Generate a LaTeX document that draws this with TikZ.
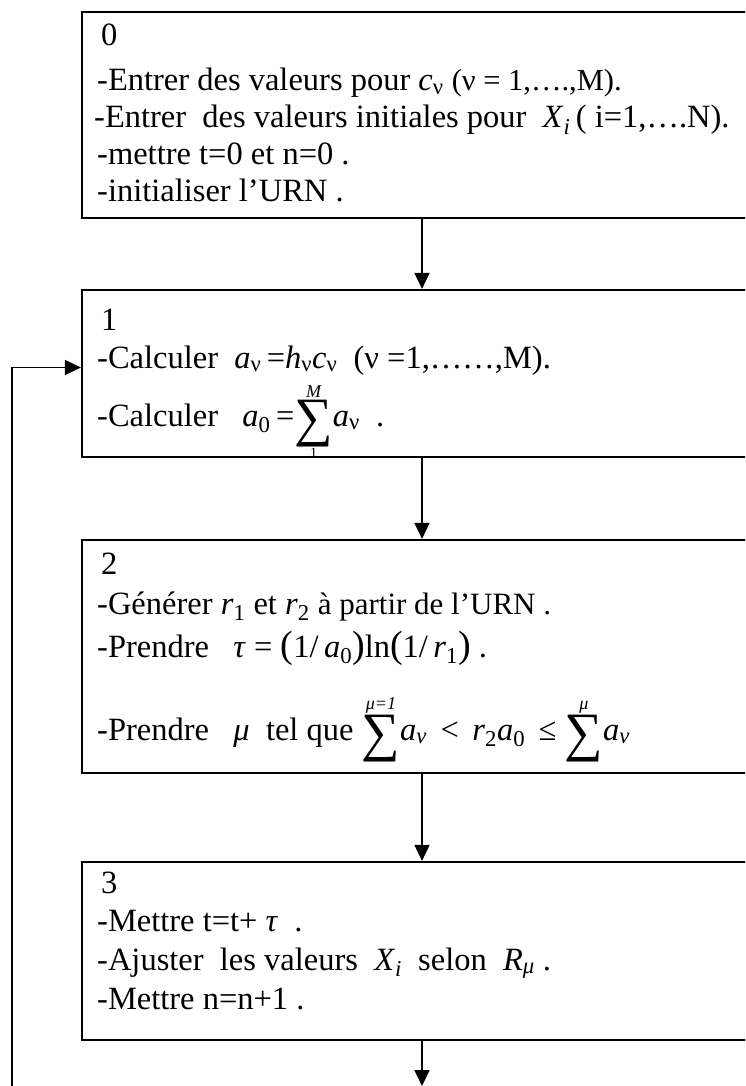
\documentclass[tikz,border=0pt]{standalone}
\usepackage{fontspec}
\setmainfont{Liberation Serif}
\usetikzlibrary{arrows.meta}
\newcommand\bsum[3]{\raisebox{-#3}{$\mathop{\hbox{\fontsize{54}{54}\selectfont ∑}}\limits^{\hbox{\fontsize{18}{18}\selectfont\itshape #1}}_{\hbox{\fontsize{14}{14}\selectfont #2}}$}}
\newcommand\sbs[1]{\textsubscript{#1}}
\begin{document}
\begin{tikzpicture}[x=1pt,y=-1pt,
  stepbox/.style={draw, line width=2.2pt, rectangle, inner sep=0pt, minimum width=680pt},
  txt/.style={anchor=base west, inner sep=0pt, font=\fontsize{32.5}{38}\selectfont},
  arr/.style={line width=1.8pt, -{Triangle[width=15pt,length=16pt]}}]
\useasboundingbox (0,0) rectangle (745,1086);
\clip (0,0) rectangle (745,1086);
% box 0 text
\node[txt] (t00) at (101,46) {0};
\node[txt] (t01) at (97,91) {-Entrer des valeurs pour \textit{c}\sbs{ν}\ {\fontsize{30.5}{30.5}\selectfont(ν = 1,….,M).}};
\node[txt] (t02) at (94,128) {-Entrer\ \ des valeurs initiales pour\ \ \textit{X}\sbs{\textit{i}}\,( i=1,….N).};
\node[txt] (t03) at (97,165) {-mettre t=0 et n=0 .};
\node[txt] (t04) at (97,201) {-initialiser l’URN .};
% box 1 text
\node[txt] (t10) at (101,330) {1};
\node[txt] (t11) at (97,368) {-Calculer\ \ \textit{a}\sbs{ν}\,=\textit{h}\sbs{ν}\textit{c}\sbs{ν}\ \ (ν =1,……,M).};
\node[txt] (t12) at (97,426) {-Calculer\ \ \ \textit{a}\sbs{0}\,=\bsum{M}{1}{9pt}\textit{a}\sbs{ν}\ \ .};
% box 2 text
\node[txt] (t20) at (101,574) {2};
\node[txt] (t21) at (97,614) {-Générer \textit{r}\sbs{1} et \textit{r}\sbs{2} {\fontsize{31}{31}\selectfont à partir de l’URN .}};
\node[txt] (t22) at (97,657) {-Prendre\ \ \ \textit{τ} = {\fontsize{38}{38}\selectfont(}1/\,\textit{a}\sbs{0}{\fontsize{38}{38}\selectfont)}ln{\fontsize{38}{38}\selectfont(}1/\,\textit{r}\sbs{1}{\fontsize{38}{38}\selectfont)} .};
\node[txt] (t23) at (97,740) {-Prendre\ \ \ \textit{μ}\ \ tel que\ \bsum{μ=1}{}{10pt}\textit{a}\sbs{\textit{ν}}\ \,<\ \,\textit{r}\sbs{2}\textit{a}\sbs{0}\ \,≤\ \bsum{μ}{}{10pt}\textit{a}\sbs{\textit{ν}}};
% box 3 text
\node[txt] (t30) at (101,893) {3};
\node[txt] (t31) at (97,931) {-Mettre t=t+ \textit{τ}\ \ .};
\node[txt] (t32) at (97,970) {-Ajuster\ \ les valeurs\ \ \textit{X}\sbs{\textit{i}}\ \ selon\ \ \textit{R}\sbs{\textit{μ}} .};
\node[txt] (t33) at (97,1009) {-Mettre n=n+1 .};
% boxes
\node[stepbox, minimum height=206pt] (b0) at (422,115) {};
\node[stepbox, minimum height=167pt] (b1) at (422,373.5) {};
\node[stepbox, minimum height=233pt] (b2) at (422,656.5) {};
\node[stepbox, minimum height=178pt] (b3) at (422,951) {};
% connectors
\coordinate (fb) at (12,1090);
\coordinate (out) at (422,1086);
\draw[arr] (b0.south) -- (b1.north);
\draw[arr] (b1.south) -- (b2.north);
\draw[arr] (b2.south) -- (b3.north);
\draw[arr] (b3.south) -- (out);
\draw[arr] (fb) |- ([yshift=6pt]b1.west);
\end{tikzpicture}
\end{document}
